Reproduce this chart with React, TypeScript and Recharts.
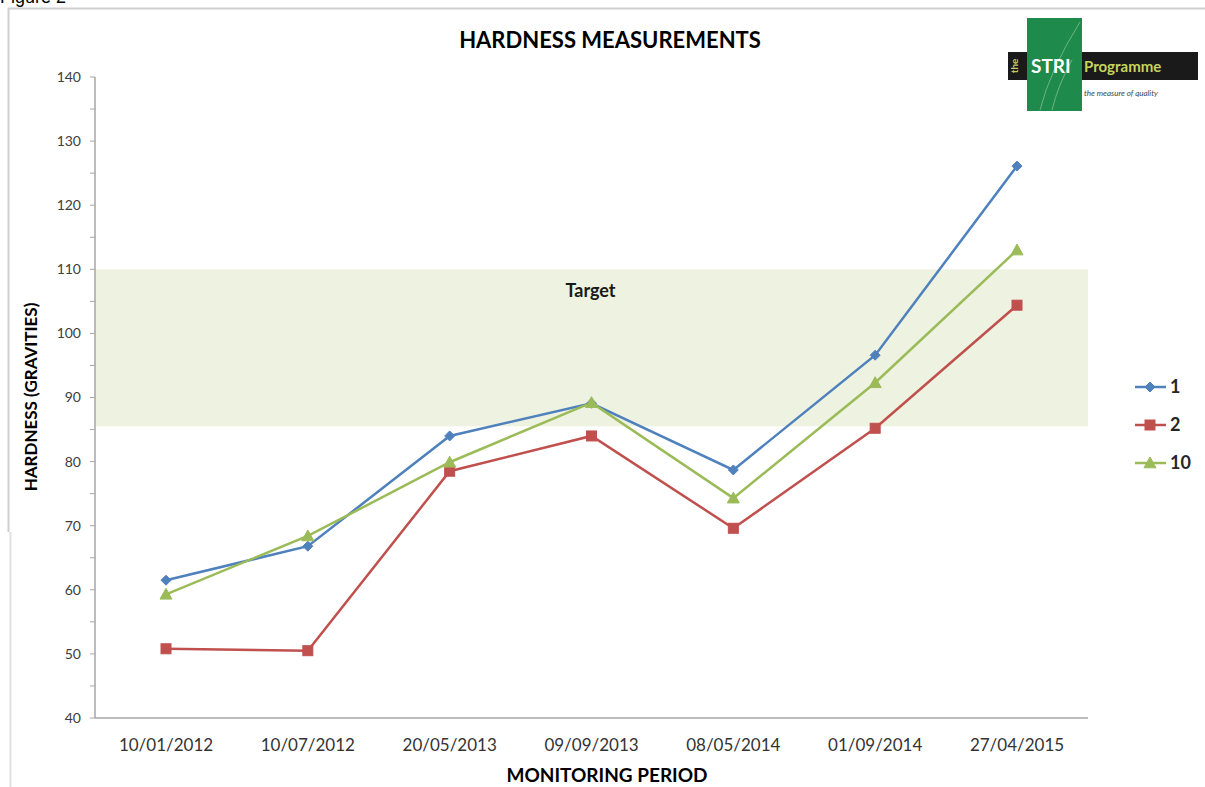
import React from 'react';
import { LineChart, Line, XAxis, YAxis, ReferenceArea } from 'recharts';

const categories = ['10/01/2012', '10/07/2012', '20/05/2013', '09/09/2013', '08/05/2014', '01/09/2014', '27/04/2015'];
const series1 = [61.5, 66.8, 84.0, 89.1, 78.7, 96.6, 126.1];
const series2 = [50.8, 50.5, 78.5, 84.0, 69.6, 85.2, 104.4];
const series10 = [59.3, 68.4, 79.9, 89.2, 74.3, 92.3, 113.0];
const seriesNames = ['1', '2', '10'];
const yTicks = [40, 45, 50, 55, 60, 65, 70, 75, 80, 85, 90, 95, 100, 105, 110, 115, 120, 125, 130, 135, 140];
const targetLow = 85.5;
const targetHigh = 110;

const data = categories.map((c, i) => ({ date: c, s1: series1[i], s2: series2[i], s10: series10[i] }));

const BLUE = '#4F81BD';
const RED = '#C0504D';
const GREEN = '#9BBB59';
const FONT = 'Lato, "Open Sans", sans-serif';
const PAD = 71;

const Diamond = (props: any) => {
  const { cx, cy } = props;
  if (cx == null || cy == null) return null;
  const r = 5;
  return <path d={`M${cx},${cy - r}L${cx + r},${cy}L${cx},${cy + r}L${cx - r},${cy}Z`} fill={BLUE} stroke={BLUE} />;
};
const Square = (props: any) => {
  const { cx, cy } = props;
  if (cx == null || cy == null) return null;
  const r = 5;
  return <rect x={cx - r} y={cy - r} width={2 * r} height={2 * r} fill={RED} stroke={RED} />;
};
const Triangle = (props: any) => {
  const { cx, cy } = props;
  if (cx == null || cy == null) return null;
  const r = 6;
  return <path d={`M${cx},${cy - r}L${cx + r},${cy + r * 0.8}L${cx - r},${cy + r * 0.8}Z`} fill={GREEN} stroke={GREEN} />;
};

const legendItems = [
  { label: seriesNames[0], color: BLUE, Shape: Diamond },
  { label: seriesNames[1], color: RED, Shape: Square },
  { label: seriesNames[2], color: GREEN, Shape: Triangle },
];

const TargetLabel = (props: any) => {
  const { viewBox } = props;
  if (!viewBox) return null;
  const cx = viewBox.x + viewBox.width / 2;
  return (
    <text x={cx - 1} y={viewBox.y + 28} textAnchor="middle" fontFamily={FONT} fontSize={18} fontWeight={700} fill="#1a1a1a">Target</text>
  );
};

const BandShape = (props: any) => {
  const { x, y, width, height } = props;
  if (x == null) return null;
  return <rect x={x - PAD} y={y} width={width + 2 * PAD} height={height} fill="#EEF2E0" />;
};

export default function App() {
  return (
    <div style={{ position: 'absolute', left: 0, top: 0, width: 1205, height: 787, background: '#fff', overflow: 'hidden' }}>
      <LineChart width={1205} height={787} data={data} margin={{ top: 77, right: 117, bottom: 39, left: 0 }}>
        <ReferenceArea y1={targetLow} y2={targetHigh} shape={<BandShape />} label={<TargetLabel />} ifOverflow="visible" />
        <XAxis
          dataKey="date"
          padding={{ left: PAD, right: PAD }}
          axisLine={{ stroke: '#A6A6A6', strokeWidth: 1.5 }}
          tickLine={false}
          tickMargin={15}
          tick={{ fontFamily: FONT, fontSize: 17, fill: '#333' }}
          interval={0}
        />
        <YAxis
          width={95}
          domain={[40, 140]}
          ticks={yTicks}
          interval={0}
          tickFormatter={(v: number) => (v % 10 === 0 ? String(v) : '')}
          axisLine={{ stroke: '#A6A6A6', strokeWidth: 1.5 }}
          tickLine={{ stroke: '#A6A6A6' }}
          tickSize={5}
          tickMargin={9}
          tick={{ fontFamily: FONT, fontSize: 14, fill: '#404040' }}
        />
        <Line type="linear" dataKey="s1" name={seriesNames[0]} stroke={BLUE} strokeWidth={2.5} dot={<Diamond />} isAnimationActive={false} />
        <Line type="linear" dataKey="s2" name={seriesNames[1]} stroke={RED} strokeWidth={2.5} dot={<Square />} isAnimationActive={false} />
        <Line type="linear" dataKey="s10" name={seriesNames[2]} stroke={GREEN} strokeWidth={2.5} dot={<Triangle />} isAnimationActive={false} />
      </LineChart>
      <svg width={1205} height={787} style={{ position: 'absolute', left: 0, top: 0, pointerEvents: 'none' }}>
        <text x={0} y={3} fontFamily="Arial, sans-serif" fontSize={18} fill="#000">Figure 2</text>
        <line x1={8.5} y1={8} x2={8.5} y2={532} stroke="#CFCFCF" strokeWidth={2} />
        <line x1={10.5} y1={532} x2={10.5} y2={787} stroke="#E0E0E0" strokeWidth={2} />
        <line x1={8} y1={8.5} x2={1205} y2={8.5} stroke="#CFCFCF" strokeWidth={2} />
        <text x={610} y={48} textAnchor="middle" fontFamily={FONT} fontSize={22} fontWeight={700} fill="#000">HARDNESS MEASUREMENTS</text>
        <text x={607} y={782} textAnchor="middle" fontFamily={FONT} fontSize={19} fontWeight={700} fill="#000">MONITORING PERIOD</text>
        <text transform="translate(37,397) rotate(-90)" textAnchor="middle" fontFamily={FONT} fontSize={17} fontWeight={700} fill="#000">HARDNESS (GRAVITIES)</text>
        {/* legend */}
        {legendItems.map((it, i) => {
          const y = 387 + i * 38;
          const S = it.Shape;
          return (
            <g key={it.label}>
              <line x1={1135} x2={1166} y1={y} y2={y} stroke={it.color} strokeWidth={2.5} />
              <S cx={1150} cy={y} />
              <text x={1170} y={y + 6} fontFamily={FONT} fontSize={18} fontWeight={700} fill="#262626">{it.label}</text>
            </g>
          );
        })}
        {/* logo */}
        <rect x={1008} y={52} width={190} height={28} fill="#1A1A1A" />
        <rect x={1027} y={18} width={55} height={93} fill="#1E8A4C" />
        <path d="M1040,110 Q1050,70 1080,22" stroke="#6FB57F" strokeWidth={1} fill="none" />
        <path d="M1052,110 Q1058,85 1072,60" stroke="#6FB57F" strokeWidth={1} fill="none" />
        <text transform="translate(1018,66) rotate(-90)" textAnchor="middle" fontFamily={FONT} fontSize={10} fontWeight={700} fill="#C8C85A">the</text>
        <text x={1031} y={73} fontFamily={FONT} fontSize={19} fontWeight={700} fill="#fff">STRI</text>
        <text x={1084} y={72} fontFamily={FONT} fontSize={15} fontWeight={700} fill="#C6D45C">Programme</text>
        <text x={1084} y={96} fontFamily={FONT} fontSize={8} fontStyle="italic" fill="#444">the measure of quality</text>
      </svg>
    </div>
  );
}
